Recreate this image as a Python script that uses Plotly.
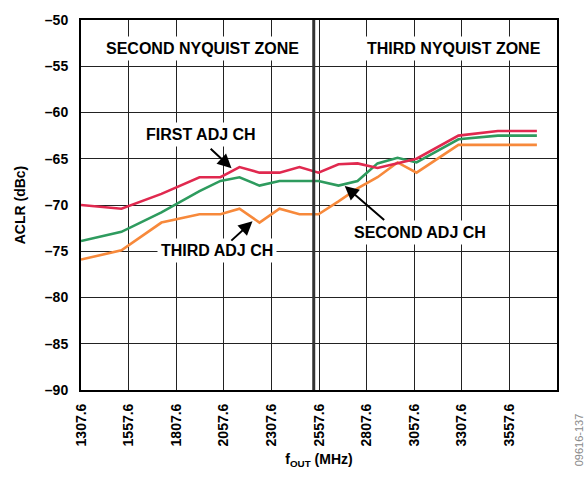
import plotly.graph_objects as go

# Output frequency (MHz) at each measurement point
freq_mhz = [1307.6, 1520, 1730, 1930, 2040, 2140, 2245, 2350, 2455, 2555,
            2660, 2760, 2865, 2970, 3070, 3290, 3497, 3702]

# ACLR (dBc) per adjacent channel
first_adj = [-70.0, -70.4, -68.8, -67.0, -67.0, -65.9, -66.5, -66.5, -65.9, -66.5,
             -65.6, -65.5, -66.0, -65.5, -65.0, -62.5, -62.0, -62.0]
second_adj = [-73.9, -72.9, -70.8, -68.5, -67.4, -67.0, -67.9, -67.4, -67.4, -67.4,
              -67.9, -67.4, -65.5, -64.9, -65.4, -62.9, -62.5, -62.5]
third_adj = [-75.9, -74.9, -71.9, -71.0, -71.0, -70.4, -71.9, -70.4, -71.0, -71.0,
             -69.6, -68.2, -67.0, -65.4, -66.5, -63.5, -63.5, -63.5]

x_ticks = [1307.6, 1557.6, 1807.6, 2057.6, 2307.6, 2557.6, 2807.6, 3057.6, 3307.6, 3557.6]
x_grid_extra = [3807.6]
y_ticks = [-50, -55, -60, -65, -70, -75, -80, -85, -90]
y_tick_text = ["\u2013" + str(abs(v)) for v in y_ticks]

nyquist_boundary = 2530

FONT = "Liberation Sans, Arial, sans-serif"

fig = go.Figure()
for vals, col in [(third_adj, "#F7893B"), (second_adj, "#2E9B5E"), (first_adj, "#E0294F")]:
    fig.add_trace(go.Scatter(x=freq_mhz, y=vals, mode="lines",
                             line=dict(color=col, width=2.6), showlegend=False,
                             hoverinfo="skip"))

# Zone boundary
fig.add_shape(type="line", x0=nyquist_boundary, x1=nyquist_boundary, y0=-90, y1=-50,
              xref="x", yref="y", line=dict(color="#333333", width=3), layer="above")

labels = [
    ("SECOND NYQUIST ZONE", 1945, -53.07),
    ("THIRD NYQUIST ZONE", 3267, -53.07),
    ("FIRST ADJ CH", 1936, -62.34),
    ("THIRD ADJ CH", 2022, -74.95),
    ("SECOND ADJ CH", 3086, -72.97),
]
for txt, x, y in labels:
    fig.add_annotation(x=x, y=y, xref="x", yref="y", text="<b>%s</b>" % txt,
                       showarrow=False, bgcolor="white", borderpad=3,
                       font=dict(family=FONT, size=16, color="black"))

arrows = [
    ((1980.7, -63.77), (2098.3, -66.02)),
    ((2089.3, -74.0), (2208.4, -71.75)),
    ((2907.8, -71.75), (2692.7, -67.94)),
]
for (tx, ty), (hx, hy) in arrows:
    fig.add_annotation(x=hx, y=hy, ax=tx, ay=ty, xref="x", yref="y",
                       axref="x", ayref="y", text="", showarrow=True,
                       arrowhead=2, arrowsize=1.4, arrowwidth=2, arrowcolor="black")

# Figure code along the right edge
fig.add_annotation(x=1.047, y=-0.135, xref="paper", yref="paper", text="09616-137",
                   showarrow=False, textangle=-90, xanchor="center", yanchor="middle",
                   font=dict(family=FONT, size=11, color="#8a8a8a"))

fig.update_layout(
    width=584, height=477,
    margin=dict(l=81, r=26.5, t=14.5, b=78),
    plot_bgcolor="white", paper_bgcolor="white",
    font=dict(family=FONT, size=14, color="black"),
    xaxis=dict(range=[1307.6, 3807.6], tickvals=x_ticks + x_grid_extra,
               ticktext=["<b>%g</b>" % v for v in x_ticks] + [""],
               tickangle=-90, ticks="", showgrid=True, gridcolor="#222222",
               gridwidth=1.3, showline=True, linecolor="black", linewidth=2,
               mirror=True, zeroline=False, ticklabelstandoff=6,
               title=dict(text="<b>f<sub>OUT</sub> (MHz)</b>", standoff=9,
                          font=dict(family=FONT, size=14))),
    yaxis=dict(range=[-90, -50], tickvals=y_ticks,
               ticktext=["<b>%s</b>" % t for t in y_tick_text],
               ticks="", showgrid=True, gridcolor="#222222", gridwidth=1.3,
               showline=True, linecolor="black", linewidth=2, mirror=True,
               zeroline=False, ticklabelstandoff=8,
               title=dict(text="<b>ACLR (dBc)</b>", standoff=16,
                          font=dict(family=FONT, size=14))),
)

fig.write_html("out.html")
